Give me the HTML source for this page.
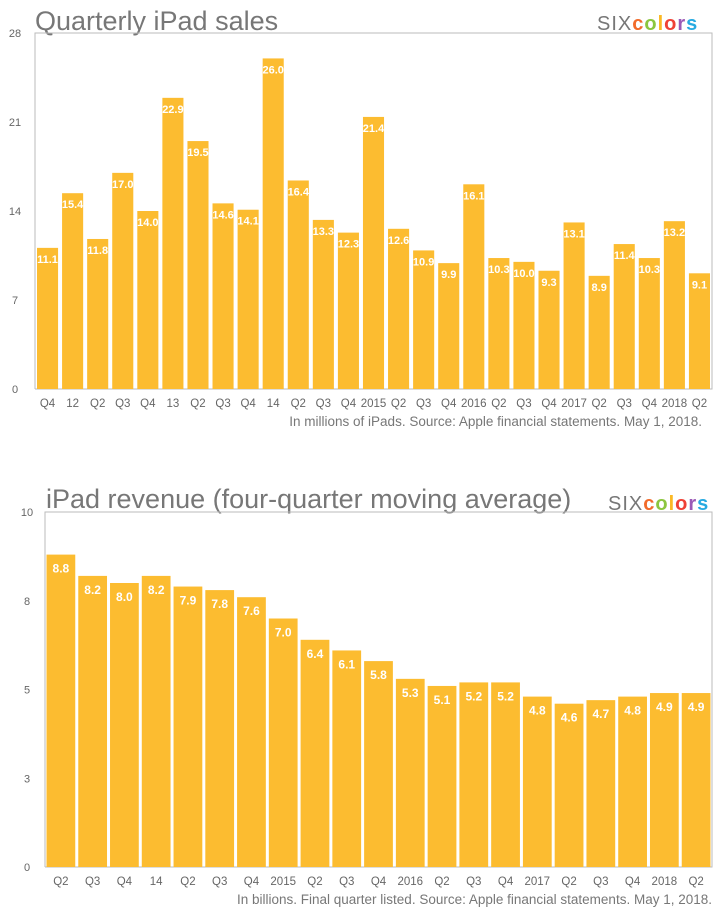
<!DOCTYPE html>
<html><head><meta charset="utf-8"><style>
body{margin:0;background:#fff;width:720px;height:920px;overflow:hidden}
svg{display:block;font-family:"Liberation Sans",Arial,sans-serif}
</style></head><body>
<svg id="svg" width="720" height="920" viewBox="0 0 720 920">
<text x="35" y="30" font-size="27" fill="#777">Quarterly iPad sales</text>
<g font-size="20" transform="translate(597,30)">
<text x="0" y="0" fill="#777" letter-spacing="1">SIX<tspan font-weight="bold" fill="#f26b2b">c</tspan><tspan font-weight="bold" fill="#8cc63f">o</tspan><tspan font-weight="bold" fill="#fbb924">l</tspan><tspan font-weight="bold" fill="#ef4136">o</tspan><tspan font-weight="bold" fill="#9b59b6">r</tspan><tspan font-weight="bold" fill="#27aae1">s</tspan></text>
</g>
<text x="702" y="426" font-size="13.5" fill="#777" text-anchor="end">In millions of iPads. Source: Apple financial statements. May 1, 2018.</text>
<text x="46" y="508" font-size="27" fill="#777">iPad revenue (four-quarter moving average)</text>
<g font-size="20" transform="translate(608,510)">
<text x="0" y="0" fill="#777" letter-spacing="1">SIX<tspan font-weight="bold" fill="#f26b2b">c</tspan><tspan font-weight="bold" fill="#8cc63f">o</tspan><tspan font-weight="bold" fill="#fbb924">l</tspan><tspan font-weight="bold" fill="#ef4136">o</tspan><tspan font-weight="bold" fill="#9b59b6">r</tspan><tspan font-weight="bold" fill="#27aae1">s</tspan></text>
</g>
<text x="712" y="904" font-size="13.5" fill="#777" text-anchor="end">In billions. Final quarter listed. Source: Apple financial statements. May 1, 2018.</text>
</svg>
<script>
const salesCategories=["Q4","12","Q2","Q3","Q4","13","Q2","Q3","Q4","14","Q2","Q3","Q4","2015","Q2","Q3","Q4","2016","Q2","Q3","Q4","2017","Q2","Q3","Q4","2018","Q2"];
const salesValues=[11.1,15.4,11.8,17.0,14.0,22.9,19.5,14.6,14.1,26.0,16.4,13.3,12.3,21.4,12.6,10.9,9.9,16.1,10.3,10.0,9.3,13.1,8.9,11.4,10.3,13.2,9.1];
const salesTicks=[0,7,14,21,28];
const salesTickLabels=["0","7","14","21","28"];
const revCategories=["Q2","Q3","Q4","14","Q2","Q3","Q4","2015","Q2","Q3","Q4","2016","Q2","Q3","Q4","2017","Q2","Q3","Q4","2018","Q2"];
const revValues=[8.8,8.2,8.0,8.2,7.9,7.8,7.6,7.0,6.4,6.1,5.8,5.3,5.1,5.2,5.2,4.8,4.6,4.7,4.8,4.9,4.9];
const revTicks=[0,2.5,5,7.5,10];
const revTickLabels=["0","3","5","8","10"];
const NS="http://www.w3.org/2000/svg";
const svg=document.getElementById('svg');
function mk(t,a,txt){const e=document.createElementNS(NS,t);for(const k in a)e.setAttribute(k,a[k]);if(txt!==undefined)e.textContent=txt;svg.appendChild(e);return e;}
function draw(p,cats,vals,ticks,tlabels,max,ix){
  const y=v=>p.b-(v/max)*(p.b-p.t);
  const band=(p.r-p.l)/cats.length;
  const x=i=>p.l+i*band;
  let e=mk('path',{d:`M${p.l} ${p.b}V${p.t}H${p.r}V${p.b}H${p.l}`,fill:'none',stroke:'#bbb','stroke-width':1});
  
  
  ticks.forEach((t,i)=>{
    const tl=mk('text',{x:p.l-p.tickOff,y:y(t)+4,'font-size':11,fill:'#666','text-anchor':'middle'},tlabels[i]);
    
    
  });
  vals.forEach((v,i)=>{
    const bx=x(i)+p.gap/2, bw=band-p.gap;
    const r=mk('rect',{x:bx,y:y(v),width:bw,height:p.b-y(v),fill:'#fcbc30'});
    
    
    const lb=mk('text',{x:bx+bw/2,y:y(v)+p.lblOff,'font-size':p.lfs,'font-weight':'bold',fill:'#fff','text-anchor':'middle'},v.toFixed(1));
    
    
    const cl=mk('text',{x:bx+bw/2,y:p.b+18,'font-size':11.5,fill:'#666','text-anchor':'middle'},cats[i]);
    
    
  });
}
draw({l:35,r:712,t:33,b:389,gap:4,lblOff:15,lfs:11,tickOff:20},salesCategories,salesValues,salesTicks,salesTickLabels,28,1);
draw({l:45,r:712,t:512,b:867,gap:3,lblOff:18,lfs:12,tickOff:18},revCategories,revValues,revTicks,revTickLabels,10,2);
</script>
</body></html>
